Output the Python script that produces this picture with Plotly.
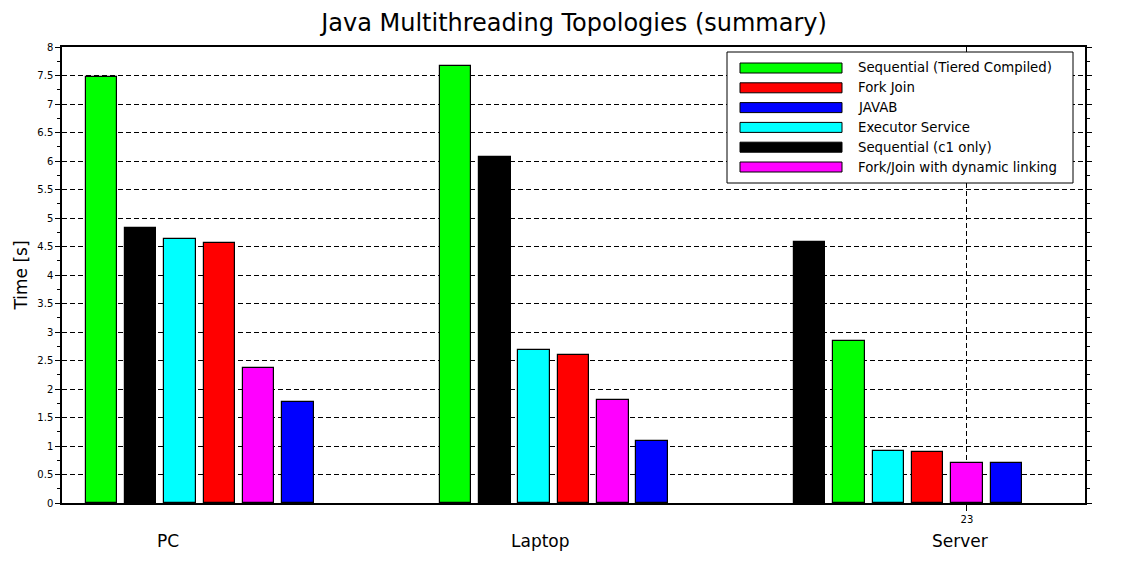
import plotly.graph_objects as go

# ---------------- data ----------------
groups = ["PC", "Laptop", "Server"]
series_names = [
    "Sequential (Tiered Compiled)",
    "Fork Join",
    "JAVAB",
    "Executor Service",
    "Sequential (c1 only)",
    "Fork/Join with dynamic linking",
]
colors = ["#00ff00", "#ff0000", "#0000ff", "#00ffff", "#000000", "#ff00ff"]

# values per series for (PC, Laptop, Server), seconds
seq_tiered = [7.47, 7.66, 2.85]
fork_join = [4.57, 2.60, 0.90]
javab = [1.77, 1.08, 0.70]
executor = [4.63, 2.68, 0.91]
seq_c1 = [4.82, 6.07, 4.58]
fj_dynamic = [2.36, 1.80, 0.71]

series_values = [seq_tiered, fork_join, javab, executor, seq_c1, fj_dynamic]

y_ticks = [i * 0.5 for i in range(17)]
y_ticklabels = ["0" if v == 0 else ("%g" % v) for v in y_ticks]
x_tickvals = [23]
x_ticklabels = ["23"]

# ---------------- layout helpers ----------------
OFF = 8                      # page body margin of the html page
W, H = 1132 - 2 * OFF, 563 - 2 * OFF
L, T = 62 - OFF, 47 - OFF
PW, PH = 1023, 456
R = W - L - PW
B = H - T - PH
group_slot = 9               # slots per group (6 bars + gap)
label_x = [2.69, 12.15, 22.82]  # x positions of the group labels (data units)


def px(xp):
    """page pixel x -> paper x"""
    return (xp - 62) / PW


def py(yp):
    """page pixel y -> paper y"""
    return (503 - yp) / PH


# bar positions: within each group, bars sorted by descending time
positions = [[0] * len(groups) for _ in series_values]
for g in range(len(groups)):
    order = sorted(range(len(series_values)), key=lambda s: -series_values[s][g])
    for rank, s in enumerate(order):
        positions[s][g] = g * group_slot + 1 + rank

fig = go.Figure()
for name, col, vals, pos in zip(series_names, colors, series_values, positions):
    fig.add_trace(go.Bar(
        x=pos, y=vals, name=name, width=0.8,
        marker=dict(color=col, line=dict(color="black", width=1.2)),
        showlegend=False,
    ))

grid_dash = "5px,3px"
fig.update_layout(
    width=W, height=H,
    margin=dict(l=L, r=R, t=T, b=B, autoexpand=False),
    paper_bgcolor="white", plot_bgcolor="white",
    font=dict(family="DejaVu Sans", color="black"),
    title=dict(text="Java Multithreading Topologies (summary)",
               x=(574 - OFF) / W, xanchor="center", y=1 - (23 - OFF) / H, yanchor="middle",
               font=dict(size=24, color="black")),
    bargap=0,
)
fig.update_xaxes(
    range=[0, 26], tickmode="array", tickvals=x_tickvals, ticktext=x_ticklabels,
    showgrid=True, gridcolor="black", griddash=grid_dash, gridwidth=1,
    zeroline=False, showline=True, linecolor="black", linewidth=1.5, mirror=True,
    ticks="outside", ticklen=6, tickcolor="black", tickfont=dict(size=10),
)
fig.update_yaxes(
    range=[0, 8], tickmode="array", tickvals=y_ticks, ticktext=y_ticklabels,
    showgrid=True, gridcolor="black", griddash=grid_dash, gridwidth=1,
    zeroline=False, showline=True, linecolor="black", linewidth=1.5, mirror="ticks",
    ticks="outside", ticklen=5, tickcolor="black", tickfont=dict(size=10),
    minor=dict(ticks="outside", ticklen=3, dtick=0.25, tickcolor="black", showgrid=False),
    title=dict(text="Time [s]", font=dict(size=17), standoff=5),
)

# group labels under the axis
for lab, lx in zip(groups, label_x):
    fig.add_annotation(x=lx, xref="x", y=py(541), yref="paper", text=lab,
                       showarrow=False, font=dict(size=17, color="black"),
                       xanchor="center", yanchor="middle")

# legend drawn as a box with wide swatches
fig.add_shape(type="rect", xref="paper", yref="paper",
              x0=px(727), x1=px(1073), y0=py(183), y1=py(52),
              line=dict(color="black", width=1), fillcolor="white", layer="above")
for i, (name, col) in enumerate(zip(series_names, colors)):
    cy = 68 + i * 19.8
    fig.add_shape(type="rect", xref="paper", yref="paper",
                  x0=px(740), x1=px(842), y0=py(cy + 5), y1=py(cy - 5),
                  line=dict(color="black", width=1), fillcolor=col, layer="above")
    fig.add_annotation(x=px(856), xref="paper", y=py(cy), yref="paper", text=name,
                       showarrow=False, xanchor="left", yanchor="middle",
                       font=dict(size=13.3, color="black"))

fig.write_html("out.html")
